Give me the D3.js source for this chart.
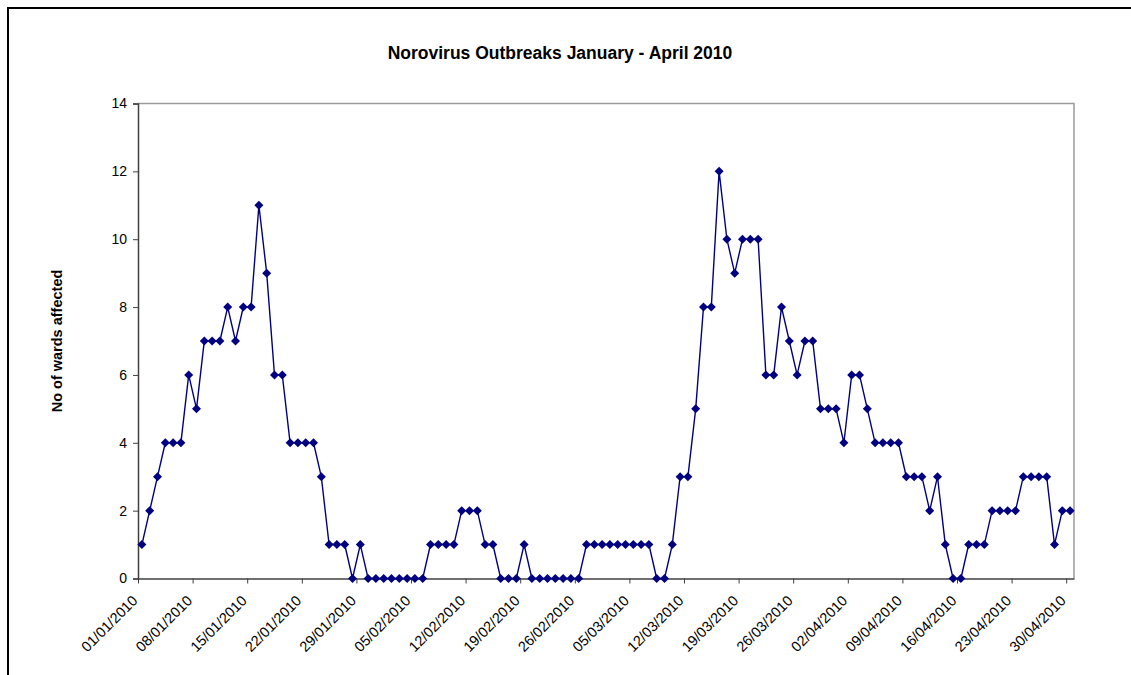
<!DOCTYPE html>
<html>
<head>
<meta charset="utf-8">
<script src="https://cdn.jsdelivr.net/npm/d3@7"></script>
<style>
  html, body { margin: 0; padding: 0; background: #fff; }
  svg { display: block; font-family: Arial, "Liberation Sans", sans-serif; }
</style>
</head>
<body>
<svg id="chart" width="1131" height="675"></svg>
<script>
// Daily count of wards affected, starting 01/01/2010 (one value per day)
const startDate = "2010-01-01";
const endDate = "2010-05-01";
const wardsAffected = [
  1, 2, 3, 4, 4, 4, 6, 5, 7, 7, 7, 8, 7, 8, 8, 11, 9, 6, 6, 4,
  4, 4, 4, 3, 1, 1, 1, 0, 1, 0, 0, 0, 0, 0, 0, 0, 0, 1, 1, 1,
  1, 2, 2, 2, 1, 1, 0, 0, 0, 1, 0, 0, 0, 0, 0, 0, 0, 1, 1, 1,
  1, 1, 1, 1, 1, 1, 0, 0, 1, 3, 3, 5, 8, 8, 12, 10, 9, 10, 10, 10,
  6, 6, 8, 7, 6, 7, 7, 5, 5, 5, 4, 6, 6, 5, 4, 4, 4, 4, 3, 3,
  3, 2, 3, 1, 0, 0, 1, 1, 1, 2, 2, 2, 2, 3, 3, 3, 3, 1, 2, 2
];
const tickDates = [
  "2010-01-01", "2010-01-08", "2010-01-15", "2010-01-22", "2010-01-29",
  "2010-02-05", "2010-02-12", "2010-02-19", "2010-02-26",
  "2010-03-05", "2010-03-12", "2010-03-19", "2010-03-26",
  "2010-04-02", "2010-04-09", "2010-04-16", "2010-04-23", "2010-04-30"
];
const yTicks = [0, 2, 4, 6, 8, 10, 12, 14];
const chartTitle = "Norovirus Outbreaks January - April 2010";
const yTitle = "No of wards affected";

const parse = d3.utcParse("%Y-%m-%d");
const fmt = d3.utcFormat("%d/%m/%Y");
const day0 = parse(startDate);
const series = wardsAffected.map((v, i) => ({ date: d3.utcDay.offset(day0, i), value: v }));

const svg = d3.select("#chart");
const plot = { left: 138, top: 103.5, right: 1074, bottom: 578.5 };
const fontFamily = "Arial, 'Liberation Sans', sans-serif";

const x = d3.scaleUtc().domain([day0, parse(endDate)]).range([plot.left, plot.right]);
const y = d3.scaleLinear().domain([0, 14]).range([plot.bottom, plot.top]);
// points sit in the middle of each day's slot
const px = d => x(d3.utcHour.offset(d.date, 12));

// outer chart frame (top and left edges)
svg.append("path")
  .attr("d", "M8,675 L8,8 L1131,8")
  .attr("fill", "none").attr("stroke", "#000").attr("stroke-width", 2);

// plot area border (top and right)
svg.append("path")
  .attr("d", `M${plot.left},${plot.top} L${plot.right},${plot.top} L${plot.right},${plot.bottom}`)
  .attr("fill", "none").attr("stroke", "#9a9a9a").attr("stroke-width", 1.5);

// y axis
const yAxis = svg.append("g")
  .attr("transform", `translate(${plot.left},0)`)
  .call(d3.axisLeft(y).tickValues(yTicks).tickSize(5).tickPadding(6).tickFormat(d3.format("d")));
yAxis.attr("font-size", null).attr("font-family", null);
yAxis.selectAll("text")
  .style("font-size", "14px").style("font-family", fontFamily).attr("fill", "#000");
yAxis.select(".domain").attr("stroke", "#404040").attr("stroke-width", 1.5);
yAxis.selectAll(".tick line").attr("stroke", "#404040");

// x axis
const xAxis = svg.append("g")
  .attr("transform", `translate(0,${plot.bottom})`)
  .call(d3.axisBottom(x).tickValues(tickDates.map(parse)).tickSize(5).tickSizeOuter(0).tickFormat(fmt));
xAxis.attr("font-size", null).attr("font-family", null);
xAxis.select(".domain").attr("stroke", "#404040").attr("stroke-width", 1.5);
xAxis.selectAll(".tick line").attr("stroke", "#404040");
xAxis.selectAll("text")
  .style("font-size", "14.5px").style("font-family", fontFamily).attr("fill", "#000")
  .attr("text-anchor", "end")
  .attr("dy", null)
  .attr("y", null)
  .attr("transform", "translate(0,23) rotate(-45)");

// data line
svg.append("path")
  .datum(series)
  .attr("fill", "none")
  .attr("stroke", "#000080")
  .attr("stroke-width", 1.4)
  .attr("d", d3.line().x(px).y(d => y(d.value)));

// diamond markers
const r = 4.5;
svg.append("g").selectAll("path")
  .data(series)
  .join("path")
  .attr("transform", d => `translate(${px(d)},${y(d.value)})`)
  .attr("d", `M0,${-r}L${r},0L0,${r}L${-r},0Z`)
  .attr("fill", "#000080");

// titles
svg.append("text")
  .attr("x", 560).attr("y", 59)
  .attr("text-anchor", "middle")
  .style("font-size", "17.5px").attr("font-weight", "bold")
  .text(chartTitle);

svg.append("text")
  .attr("transform", `translate(62,${(plot.top + plot.bottom) / 2}) rotate(-90)`)
  .attr("text-anchor", "middle")
  .style("font-size", "14.5px").attr("font-weight", "bold")
  .text(yTitle);
</script>
</body>
</html>
